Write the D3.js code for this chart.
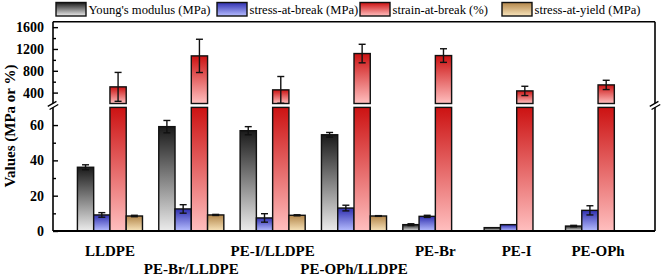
<!DOCTYPE html>
<html>
<head>
<meta charset="utf-8">
<script src="https://cdn.jsdelivr.net/npm/d3@7"></script>
<style>
  body { margin: 0; background: #fff; }
  svg { display: block; }
  text { font-family: 'Liberation Serif', 'Times New Roman', serif; }
</style>
</head>
<body>
<div id="app"></div>
<script>
// data
var groups = ['LLDPE', 'PE-Br/LLDPE', 'PE-I/LLDPE', 'PE-OPh/LLDPE', 'PE-Br', 'PE-I', 'PE-OPh'];
var seriesNames = ["Young's modulus (MPa)", 'stress-at-break (MPa)', 'strain-at-break (%)', 'stress-at-yield (MPa)'];
var youngs = [36.1, 59.1, 56.8, 54.5, 3.6, 1.9, 2.8];
var youngsErr = [1.4, 3.5, 2.3, 1.3, 0.5, 0, 0.4];
var stressBreak = [9.1, 12.5, 7.4, 13.0, 8.3, 3.6, 11.7];
var stressBreakErr = [1.3, 2.4, 2.4, 1.6, 0.6, 0, 2.6];
var strainBreak = [505, 1073, 450, 1116, 1079, 431, 541];
var strainBreakErr = [265, 305, 245, 170, 125, 85, 85];
var stressYield = [8.5, 9.1, 8.9, 8.5, null, null, null];
var stressYieldErr = [0.4, 0.3, 0.3, 0.2, 0, 0, 0];
var lowTicks = [0, 20, 40, 60];
var lowMinor = [10, 30, 50];
var highTicks = [400, 800, 1200, 1600];
var highMinor = [600, 1000, 1400];

var values = [youngs, stressBreak, strainBreak, stressYield];
var errors = [youngsErr, stressBreakErr, strainBreakErr, stressYieldErr];
var gradColors = [['#1a1a1a', '#ececec'], ['#3030b0', '#b6bdff'], ['#cc1212', '#ffbfbf'], ['#b3864a', '#f8e4bb']];

var width = 662, height = 276;
var plotLeft = 53, plotRight = 655, plotTop = 21.7, plotBottom = 231;
var lowCut = 70, highCut = 200;

var svg = d3.select('#app').append('svg').attr('width', width).attr('height', height);

var defs = svg.append('defs');
gradColors.forEach(function (c, i) {
  var g = defs.append('linearGradient').attr('id', 'grad' + i)
    .attr('x1', 0).attr('y1', 0).attr('x2', 0).attr('y2', 1);
  g.append('stop').attr('offset', '0%').attr('stop-color', c[0]);
  g.append('stop').attr('offset', '100%').attr('stop-color', c[1]);
});

var x = d3.scaleBand().domain(groups).range([plotLeft, plotRight]).paddingInner(0.2).paddingOuter(0.3);
var xs = d3.scaleBand().domain(d3.range(seriesNames.length)).range([0, x.bandwidth()]);
var yLow = d3.scaleLinear().domain([0, lowCut]).range([plotBottom, 107.4]);
var yHigh = d3.scaleLinear().domain([highCut, 1700]).range([103.5, plotTop]);

// bars
var plot = svg.append('g');
values.forEach(function (vals, s) {
  vals.forEach(function (v, i) {
    if (v == null) return;
    var bx = x(groups[i]) + xs(s);
    var bw = xs.bandwidth();
    var segs = v <= lowCut ? [[yLow, 0, v]] : [[yLow, 0, lowCut], [yHigh, highCut, v]];
    segs.forEach(function (sg) {
      var sc = sg[0];
      plot.append('rect')
        .attr('x', bx).attr('width', bw)
        .attr('y', sc(sg[2])).attr('height', sc(sg[1]) - sc(sg[2]))
        .attr('fill', 'url(#grad' + s + ')')
        .attr('stroke', '#111').attr('stroke-width', 1.4);
    });
    var e = errors[s][i];
    if (e > 0) {
      var sc = v <= lowCut ? yLow : yHigh;
      var cx = bx + bw / 2;
      var ey0 = sc(v + e), ey1 = sc(v - e);
      var eg = plot.append('g').attr('stroke', '#111').attr('stroke-width', 1.4);
      eg.append('line').attr('x1', cx).attr('x2', cx).attr('y1', ey0).attr('y2', ey1);
      eg.append('line').attr('x1', cx - 3.5).attr('x2', cx + 3.5).attr('y1', ey0).attr('y2', ey0);
      eg.append('line').attr('x1', cx - 3.5).attr('x2', cx + 3.5).attr('y1', ey1).attr('y2', ey1);
    }
  });
});

// axes
function styleAxis(g) {
  g.select('.domain').remove();
  g.selectAll('.tick line').attr('stroke', '#000').attr('stroke-width', 1.4);
  g.selectAll('.tick text')
    .attr('font-weight', 'bold').attr('font-size', 14).attr('fill', '#000');
}
svg.append('g').attr('transform', 'translate(' + plotLeft + ',0)')
  .call(d3.axisLeft(yLow).tickValues(lowTicks).tickSize(-5).tickPadding(9).tickFormat(d3.format('d')))
  .call(styleAxis);
svg.append('g').attr('transform', 'translate(' + plotLeft + ',0)')
  .call(d3.axisLeft(yHigh).tickValues(highTicks).tickSize(-5).tickPadding(9).tickFormat(d3.format('d')))
  .call(styleAxis);
svg.append('g').attr('transform', 'translate(' + plotLeft + ',0)')
  .call(d3.axisLeft(yLow).tickValues(lowMinor).tickSize(-3).tickFormat(''))
  .call(styleAxis);
svg.append('g').attr('transform', 'translate(' + plotLeft + ',0)')
  .call(d3.axisLeft(yHigh).tickValues(highMinor).tickSize(-3).tickFormat(''))
  .call(styleAxis);
svg.selectAll('g[font-family]').attr('font-family', null);

// frame
var frame = svg.append('g').attr('stroke', '#000').attr('stroke-width', 1.6).attr('fill', 'none');
frame.append('line').attr('x1', plotLeft).attr('x2', plotRight).attr('y1', plotBottom).attr('y2', plotBottom).attr('stroke-width', 2);
frame.append('line').attr('x1', plotLeft).attr('x2', plotRight).attr('y1', plotTop).attr('y2', plotTop);
[plotLeft, plotRight].forEach(function (ax) {
  frame.append('line').attr('x1', ax).attr('x2', ax).attr('y1', plotTop).attr('y2', plotBottom);
  var mid = (yHigh(highCut) + yLow(lowCut)) / 2;
  frame.append('rect').attr('x', ax - 5).attr('y', mid - 1.8).attr('width', 10).attr('height', 3.6)
    .attr('fill', '#fff').attr('stroke', 'none').attr('transform', 'rotate(-30,' + ax + ',' + mid + ')');
  [-1.8, 1.8].forEach(function (d) {
    frame.append('line').attr('x1', ax - 5).attr('x2', ax + 5).attr('y1', mid + d).attr('y2', mid + d)
      .attr('stroke-width', 1.3).attr('transform', 'rotate(-30,' + ax + ',' + mid + ')');
  });
});

// category labels, staggered
svg.append('g').selectAll('text').data(groups).enter().append('text')
  .attr('x', function (d) { return x(d) + x.bandwidth() / 2; })
  .attr('y', function (d, i) { return (i === 1 || i === 3) ? 273.5 : 256; })
  .attr('text-anchor', 'middle')
  .attr('font-weight', 'bold').attr('font-size', 15)
  .text(function (d) { return d; });

// y title
svg.append('text')
  .attr('transform', 'translate(15,126) rotate(-90)')
  .attr('text-anchor', 'middle')
  .attr('font-weight', 'bold').attr('font-size', 15)
  .text('Values (MPa or %)');

// legend
var legendX = [56, 217, 360, 502];
var legend = svg.append('g');
seriesNames.forEach(function (name, i) {
  legend.append('rect').attr('x', legendX[i]).attr('y', 2.5).attr('width', 30).attr('height', 13.5)
    .attr('fill', 'url(#grad' + i + ')').attr('stroke', '#111').attr('stroke-width', 1.4);
  legend.append('text').attr('x', legendX[i] + 32.5).attr('y', 14)
    .attr('font-size', 12.6)
    .text(name);
});
</script>
</body>
</html>
